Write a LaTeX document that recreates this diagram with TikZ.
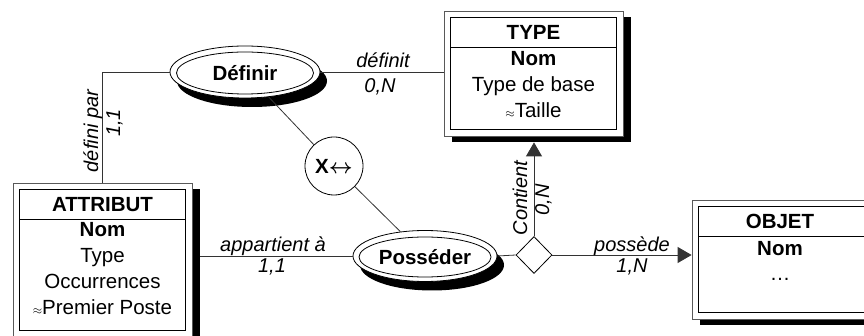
\documentclass[tikz,border=0pt]{standalone}
\usepackage{fontspec}
\setmainfont{Liberation Sans}
\usetikzlibrary{shapes.geometric,shadows,arrows.meta,calc}
\newcommand\apx{{\fontsize{12}{12}\selectfont$\approx$}}
\newcommand\entframe[1]{%
  \draw[line width=1pt] ([shift={(7,7)}]#1.north west) rectangle ([shift={(-7,-7)}]#1.south east);
  \draw[line width=1pt] ([shift={(7,37)}]#1.north west) -- ([shift={(-7,37)}]#1.north east);}
\begin{document}
\begin{tikzpicture}[x=1pt,y=-1pt,
  every node/.style={font=\fontsize{20.5}{24}\selectfont},
  conn/.style={draw=black!80, line width=0.8pt},
  entity/.style={rectangle, draw=black!65, line width=0.8pt, fill=white, inner sep=0pt,
     general shadow={fill=black, shadow xshift=8pt, shadow yshift=-6pt}},
  assoc/.style={ellipse, draw=black, line width=0.8pt, fill=white, inner sep=0pt,
     general shadow={fill=black, shadow xshift=7pt, shadow yshift=-9pt}},
  associn/.style={ellipse, draw=black, line width=0.8pt, inner sep=0pt,
     font=\fontsize{20.5}{24}\selectfont\bfseries},
  lab/.style={font=\fontsize{20}{24}\selectfont\itshape, inner sep=0pt, anchor=base},
  txt/.style={inner sep=0pt, anchor=base},
  ttl/.style={inner sep=0pt, anchor=base, font=\fontsize{20.5}{24}\selectfont\bfseries},
  arr/.style={-{Triangle[length=14pt,width=16pt]}}
]
\useasboundingbox (0,0) rectangle (864,336);
\clip (0,0) rectangle (864,336);

% entities
\node[entity, minimum width=179pt, minimum height=125pt] (type) at (533.5,73.5) {};
\node[entity, minimum width=180pt, minimum height=119pt] (obj) at (782,259.5) {};
\node[entity, minimum width=179pt, minimum height=154pt] (attr) at (102.5,260) {};
\entframe{type}
\entframe{attr}
\entframe{obj}

\node[ttl] (type-h) at ($(type.north)+(0,29)$) {TYPE};
\node[ttl] (type-a1) at ($(type.north)+(0,55)$) {Nom};
\node[txt] (type-a2) at ($(type.north)+(0,81)$) {Type de base};
\node[txt] (type-a3) at ($(type.north)+(0,107)$) {\apx Taille};

\node[ttl] (attr-h) at ($(attr.north)+(0,29)$) {ATTRIBUT};
\node[ttl] (attr-a1) at ($(attr.north)+(0,54)$) {Nom};
\node[txt] (attr-a2) at ($(attr.north)+(0,80)$) {Type};
\node[txt] (attr-a3) at ($(attr.north)+(0,106)$) {Occurrences};
\node[txt] (attr-a4) at ($(attr.north)+(0,132)$) {\apx Premier Poste};

\node[ttl] (obj-h) at ($(obj.north)+(-2,29)$) {OBJET};
\node[ttl] (obj-a1) at ($(obj.north)+(-2,56)$) {Nom};
\node[txt] (obj-a2) at ($(obj.north)+(-2,81)$) {\dots};

% associations
\node[assoc, minimum width=150pt, minimum height=52pt] (def) at (245,72) {};
\node[associn, minimum width=137pt, minimum height=42pt] (defin) at (245,73) {Définir};
\node[assoc, minimum width=144pt, minimum height=51pt] (pos) at (425,256) {};
\node[associn, minimum width=132pt, minimum height=40pt] (posin) at (425,257) {Posséder};

\node[circle, draw=black, line width=0.8pt, fill=white, minimum size=58pt, inner sep=0pt,
      font=\fontsize{20.5}{24}\selectfont\bfseries] (excl) at (334,166) {X{\boldmath$\leftrightarrow$}};
\node[diamond, draw=black, line width=0.8pt, fill=white, minimum width=36pt,
      minimum height=37pt, inner sep=0pt] (dia) at (534,255) {};

% connectors
\draw[conn] (def) -- (excl);
\draw[conn] (excl) -- (pos);
\draw[conn] (def.west) -| (attr.north);
\draw[conn] (def.east) -- (def.east -| type.west);
\draw[conn] (pos.west) -- ($(pos.west -| attr.east)+(8,0)$);
\draw[conn] (pos.east) -- (dia.west);
\draw[conn, arr] (dia.east) -- (dia.east -| obj.west);
\draw[conn, arr] (dia.north) -- ($(dia.north |- type.south)+(0,6)$);

% labels
\node[lab] (l-definit) at (383,68) {définit};
\node[lab] (l-definit-c) at (380,93) {0,N};
\node[lab, rotate=90] (l-definipar) at (98,131) {défini par};
\node[lab, rotate=90] (l-definipar-c) at (120,123) {1,1};
\node[lab] (l-app) at (273,252) {appartient à};
\node[lab] (l-app-c) at (272,273) {1,1};
\node[lab] (l-poss) at (632,252) {possède};
\node[lab] (l-poss-c) at (632,273) {1,N};
\node[lab, rotate=90] (l-cont) at (527,198) {Contient};
\node[lab, rotate=90] (l-cont-c) at (549,200) {0,N};
\end{tikzpicture}
\end{document}
